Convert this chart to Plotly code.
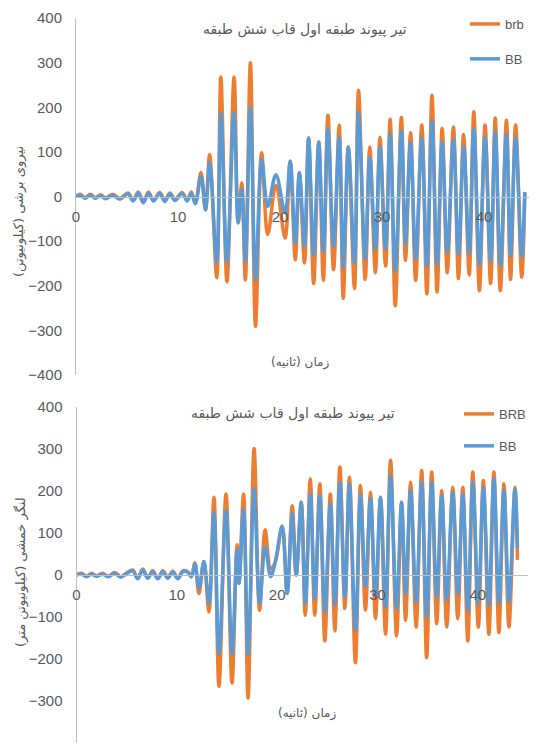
import plotly.graph_objects as go

# ---------------- data: top chart (shear force, kN) ----------------
t_top = [0, 0.4, 0.9, 1.4, 1.9, 2.4, 2.9, 3.6, 4.3, 5.1, 5.6, 6.1, 6.6, 7.1, 7.6, 8.2, 8.7, 9.2, 9.7,
         10.4, 10.9, 11.3, 11.7, 12.25, 12.7, 13.1, 13.8, 14.2, 14.8, 15.5, 15.9, 16.25, 16.6, 17.1,
         17.6, 18.2, 18.8, 19.6, 20.5, 21.0, 21.5, 21.9, 22.4, 22.8, 23.3, 23.8, 24.25, 24.7, 25.25,
         25.8, 26.2, 26.7, 27.3, 27.7, 28.35, 28.8, 29.35, 29.8, 30.35, 30.8, 31.3, 31.9, 32.3, 32.8,
         33.3, 33.9, 34.4, 34.9, 35.4, 35.9, 36.4, 37.0, 37.5, 38.0, 38.55, 39.0, 39.55, 40.1, 40.65,
         41.1, 41.6, 42.2, 42.6, 43.1, 43.7, 44.0]
brb_top = [0, 5, -3, 5, -3, 4, -3, 5, -4, 8, -8, 10, -12, 10, -8, 9, -9, 8, -7,
           9, -8, 10, -14, 54, -30, 94, -182, 268, -191, 268, -59, 31, -187, 300,
           -291, 98, -85, 25, -93, 79, -142, 53, -149, 131, -195, 122, -188, 182, -164,
           160, -228, 111, -206, 238, -186, 111, -171, 133, -156, 173, -245, 177, -143, 143,
           -188, 160, -218, 227, -214, 153, -171, 156, -184, 139, -176, 190, -211, 160, -195,
           176, -211, 171, -186, 160, -181, 7]
bb_top = [0, 3, -4, 3, -4, 2, -5, 3, -6, 6, -10, 8, -14, 7, -10, 7, -11, 6, -9,
          7, -10, 7, -16, 45, -30, 76, -148, 187, -148, 187, -59, 16, -145, 199,
          -187, 83, -22, 49, -37, 79, -105, 53, -110, 131, -130, 122, -125, 151, -112,
          133, -160, 111, -149, 190, -140, 88, -119, 111, -117, 141, -168, 147, -106, 121,
          -140, 131, -157, 169, -153, 122, -126, 128, -130, 111, -128, 152, -155, 133, -145,
          147, -155, 139, -133, 131, -134, 10]

# ---------------- data: bottom chart (bending moment, kN.m) ----------------
t_bot = [0, 0.5, 1.0, 1.5, 2.0, 2.6, 3.2, 3.8, 4.4, 5.0, 5.6, 6.1, 6.6, 7.1, 7.6, 8.1, 8.6, 9.1, 9.6,
         10.1, 10.6, 11.1, 11.45, 11.8, 12.2, 12.7, 13.2, 13.7, 14.2, 14.9, 15.5, 16.0, 16.2, 16.65,
         17.1, 17.7, 18.25, 18.8, 19.35, 19.8, 20.5, 21.0, 21.5, 21.9, 22.4, 22.8, 23.3, 23.75, 24.25,
         24.75, 25.3, 25.75, 26.25, 26.75, 27.2, 27.8, 28.3, 28.8, 29.3, 29.8, 30.3, 30.8, 31.3, 31.9,
         32.4, 32.8, 33.3, 33.85, 34.4, 34.9, 35.4, 35.9, 36.4, 36.9, 37.5, 38.0, 38.5, 39.0, 39.5,
         40.05, 40.55, 41.1, 41.6, 42.1, 42.6, 43.1, 43.7, 43.95]
brb_bot = [0, 4, -3, 4, -2, 4, -3, 6, -4, 5, 12, -8, 14, -6, 10, -8, 10, -6, 9,
           -8, 10, 8, -4, 29, -44, 32, -88, 185, -265, 193, -257, 72, -20, 193,
           -293, 301, -84, 108, 15, 30, 116, -44, 165, 0, 173, -96, 229, -96, 217,
           -157, 193, -133, 257, -80, 233, -209, 213, -84, 197, -104, 185, -141, 273, -145,
           173, -108, 221, -124, 249, -197, 245, -116, 201, -124, 209, -104, 209, -157, 245,
           -124, 225, -141, 245, -137, 217, -124, 209, 36]
bb_bot = [0, 2, -4, 2, -3, 2, -4, 4, -5, 3, 10, -9, 12, -8, 8, -9, 8, -8, 7,
          -9, 8, 6, -4, 27, -32, 32, -68, 149, -189, 153, -189, 60, -20, 157,
          -189, 205, -68, 68, -4, 30, 116, -44, 145, 0, 173, -68, 193, -56, 189,
          -88, 169, -72, 221, -52, 217, -133, 189, -28, 181, -52, 185, -76, 237, -80,
          173, -44, 201, -64, 221, -100, 221, -52, 189, -60, 197, -44, 193, -84, 221,
          -68, 209, -72, 229, -68, 201, -64, 205, 64]

x_ticks = [0, 10, 20, 30, 40]
y_ticks = [-400, -300, -200, -100, 0, 100, 200, 300, 400]

chart_title = "تیر پیوند طبقه اول قاب شش طبقه"
x_title = "زمان (ثانیه)"
y_title_top = "نیروی برشی (کیلونیوتن)"
y_title_bot = "لنگر خمشی (کیلونیوتن متر)"
names_top = ["brb", "BB"]
names_bot = ["BRB", "BB"]

ORANGE = "#ED7D31"
BLUE = "#5B9BD5"
GREY = "#595959"
AXIS = "#BFBFBF"
NUM_FONT = "Liberation Sans Narrow, Arial Narrow, Liberation Sans, sans-serif"
FA_FONT = "DejaVu Sans, Noto Sans, sans-serif"

# the page body adds an 8px margin, so the figure is drawn 8px in from the window corner
OFF = 8
W, H = 537 - OFF, 745 - OFF


def px(x):
    return (x - OFF) / W


def py(y):
    return 1 - (y - OFF) / H


fig = go.Figure()

fig.add_trace(go.Scatter(x=t_top, y=brb_top, name=names_top[0], mode="lines",
                         line=dict(color=ORANGE, width=3.5, shape="spline"),
                         xaxis="x", yaxis="y", legend="legend", legendgroup="a"))
fig.add_trace(go.Scatter(x=t_top, y=bb_top, name=names_top[1], mode="lines",
                         line=dict(color=BLUE, width=3.5, shape="spline"),
                         xaxis="x", yaxis="y", legend="legend", legendgroup="b"))
fig.add_trace(go.Scatter(x=t_bot, y=brb_bot, name=names_bot[0], mode="lines",
                         line=dict(color=ORANGE, width=3.5, shape="spline"),
                         xaxis="x2", yaxis="y2", legend="legend2", legendgroup="c"))
fig.add_trace(go.Scatter(x=t_bot, y=bb_bot, name=names_bot[1], mode="lines",
                         line=dict(color=BLUE, width=3.5, shape="spline"),
                         xaxis="x2", yaxis="y2", legend="legend2", legendgroup="d"))

tickfont = dict(family=NUM_FONT, size=15, color=GREY)

common_x = dict(range=[0, 45], tickvals=x_ticks, showgrid=False, zeroline=False,
                showline=True, linecolor=AXIS, linewidth=1, ticks="", automargin=False,
                tickfont=tickfont, ticklabelstandoff=6, anchor="free", layer="above traces")
common_y = dict(range=[-400, 400], tickvals=y_ticks, showgrid=False, zeroline=False,
                showline=True, linecolor=AXIS, linewidth=1, ticks="", automargin=False,
                tickfont=tickfont, ticklabelstandoff=10)

fig.update_layout(
    width=W, height=H,
    margin=dict(l=0, r=0, t=0, b=0, autoexpand=False),
    paper_bgcolor="white", plot_bgcolor="white",
    xaxis=dict(domain=[px(76), px(535)], position=py(196.5), **common_x),
    yaxis=dict(domain=[py(375), py(18)], anchor="x", **common_y),
    xaxis2=dict(domain=[px(76.5), px(528)], position=py(575), **common_x),
    yaxis2=dict(domain=[py(743), py(407)], anchor="x2", **common_y),
    legend=dict(x=px(465), y=py(9), xanchor="left", yanchor="top",
                font=dict(family=NUM_FONT, size=13, color=GREY),
                bgcolor="rgba(0,0,0,0)", tracegroupgap=15, itemwidth=30, borderwidth=0),
    legend2=dict(x=px(459), y=py(399), xanchor="left", yanchor="top",
                 font=dict(family=NUM_FONT, size=13, color=GREY),
                 bgcolor="rgba(0,0,0,0)", tracegroupgap=12, itemwidth=30, borderwidth=0),
    showlegend=True,
)

ann_font = dict(family=FA_FONT, size=14, color=GREY)
fig.add_annotation(text=chart_title, x=px(305), y=py(30), xref="paper", yref="paper",
                   showarrow=False, font=ann_font, xanchor="center", yanchor="middle")
fig.add_annotation(text=chart_title, x=px(293), y=py(413), xref="paper", yref="paper",
                   showarrow=False, font=ann_font, xanchor="center", yanchor="middle")
fig.add_annotation(text=x_title, x=px(300), y=py(362), xref="paper", yref="paper",
                   showarrow=False, font=dict(family=FA_FONT, size=12, color=GREY),
                   xanchor="center", yanchor="middle")
fig.add_annotation(text=x_title, x=px(307), y=py(713), xref="paper", yref="paper",
                   showarrow=False, font=dict(family=FA_FONT, size=12, color=GREY),
                   xanchor="center", yanchor="middle")
fig.add_annotation(text=y_title_top, x=px(19), y=py(212), xref="paper", yref="paper",
                   showarrow=False, font=dict(family=FA_FONT, size=13, color=GREY),
                   textangle=-90, xanchor="center", yanchor="middle")
fig.add_annotation(text=y_title_bot, x=px(21), y=py(572), xref="paper", yref="paper",
                   showarrow=False, font=dict(family=FA_FONT, size=13, color=GREY),
                   textangle=-90, xanchor="center", yanchor="middle")

fig.write_html("out.html")
